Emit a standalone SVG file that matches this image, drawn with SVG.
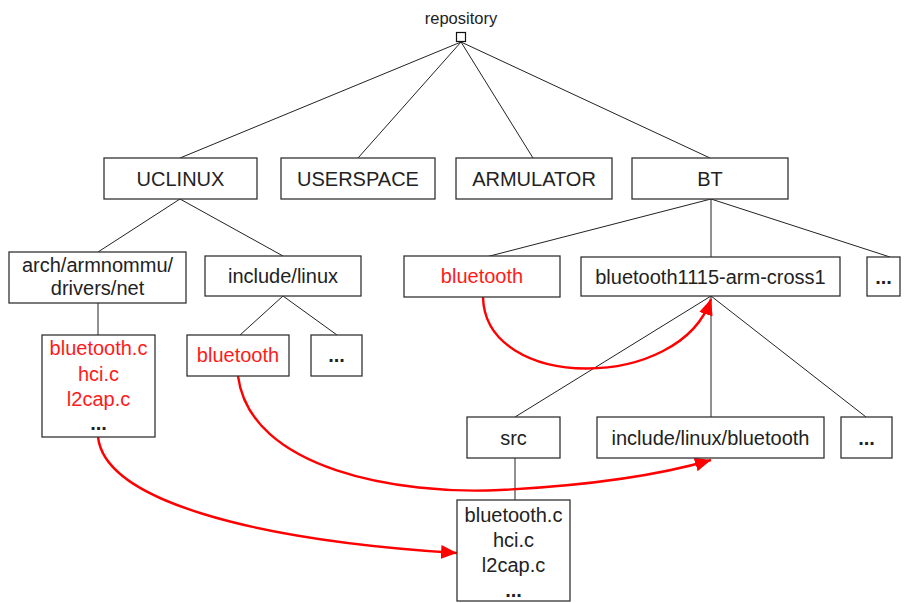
<svg xmlns="http://www.w3.org/2000/svg" width="907" height="603" viewBox="0 0 907 603">
<style>
  .box { fill: #fff; stroke: #333; stroke-width: 1.3; }
  .t { font-family: "Liberation Sans", Arial, sans-serif; font-size: 20px; fill: #222; text-anchor: middle; }
  .red { fill: #ff1a1a; }
  .dots { font-weight: bold; }
  .edge { stroke: #222; stroke-width: 1; fill: none; }
  .ref { stroke: #ff0000; stroke-width: 2.4; fill: none; }
</style>
<defs>
  <marker id="arr" markerUnits="userSpaceOnUse" markerWidth="18" markerHeight="14" refX="16" refY="7" orient="auto">
    <path d="M0,0 L16,7 L0,14 Z" fill="#ff0000"/>
  </marker>
</defs>
<rect width="907" height="603" fill="#fff"/>
<g id="connectors">
  <path class="edge" d="M461,42 L180,158 M461,42 L358,158 M461,42 L533,158 M461,42 L710,158"/>
  <path class="edge" d="M180,199 L98,252 M180,199 L283,256"/>
  <path class="edge" d="M98,303 L98,335"/>
  <path class="edge" d="M283,296 L240,335 M283,296 L337,335"/>
  <path class="edge" d="M711,199 L486,257 M711,199 L711,257 M711,199 L890,257"/>
  <path class="edge" d="M711,296 L515,417 M711,296 L711,417 M711,296 L866,417"/>
  <path class="edge" d="M515,458 L515,500"/>
  <path class="ref" d="M483,297 C485,392 680,392 711,299" marker-end="url(#arr)"/>
  <path class="ref" d="M238,376 C250,470 400,495 500,490 C600,485 670,472 711,460" marker-end="url(#arr)"/>
  <path class="ref" d="M98,437 C105,500 250,540 457,553" marker-end="url(#arr)"/>
</g>
<g id="repository">
  <text class="t" x="461" y="24" style="font-size:16.5px">repository</text>
  <rect x="456.5" y="32.5" width="9" height="9" fill="#fff" stroke="#111" stroke-width="1.2"/>
</g>
<g id="uclinux"><rect class="box" x="104" y="158" width="153" height="41"/><text class="t" x="180.5" y="186">UCLINUX</text></g>
<g id="userspace"><rect class="box" x="281" y="158" width="154" height="41"/><text class="t" x="358" y="186">USERSPACE</text></g>
<g id="armulator"><rect class="box" x="456" y="158" width="156" height="41"/><text class="t" x="534" y="186">ARMULATOR</text></g>
<g id="bt"><rect class="box" x="632" y="158" width="156" height="41"/><text class="t" x="710" y="186">BT</text></g>
<g id="arch"><rect class="box" x="9" y="252" width="177" height="51"/><text class="t" x="97.5" y="272">arch/armnommu/</text><text class="t" x="97.5" y="295">drivers/net</text></g>
<g id="include-linux"><rect class="box" x="205" y="256" width="156" height="40"/><text class="t" x="283" y="283">include/linux</text></g>
<g id="arch-files"><rect class="box" x="42" y="335" width="113" height="102"/>
  <text class="t red" x="98.5" y="355">bluetooth.c</text>
  <text class="t red" x="98.5" y="381">hci.c</text>
  <text class="t red" x="98.5" y="406">l2cap.c</text>
  <text class="t dots" x="98.5" y="430">...</text>
</g>
<g id="include-bluetooth"><rect class="box" x="187" y="335" width="102" height="41"/><text class="t red" x="238" y="362">bluetooth</text></g>
<g id="include-more"><rect class="box" x="311" y="335" width="51" height="41"/><text class="t dots" x="336.5" y="362">...</text></g>
<g id="bt-bluetooth"><rect class="box" x="404" y="256" width="156" height="41"/><text class="t red" x="482" y="283">bluetooth</text></g>
<g id="bt-cross"><rect class="box" x="581" y="257" width="259" height="39"/><text class="t" x="710.5" y="284">bluetooth1115-arm-cross1</text></g>
<g id="bt-more"><rect class="box" x="867" y="257" width="33" height="39"/><text class="t dots" x="883.5" y="284">...</text></g>
<g id="src"><rect class="box" x="467" y="417" width="93" height="41"/><text class="t" x="513.5" y="445">src</text></g>
<g id="inc-lin-bt"><rect class="box" x="597" y="417" width="227" height="41"/><text class="t" x="710.5" y="445">include/linux/bluetooth</text></g>
<g id="cross-more"><rect class="box" x="841" y="417" width="51" height="41"/><text class="t dots" x="866.5" y="445">...</text></g>
<g id="src-files"><rect class="box" x="457" y="500" width="113" height="101"/>
  <text class="t" x="513.5" y="522">bluetooth.c</text>
  <text class="t" x="513.5" y="547">hci.c</text>
  <text class="t" x="513.5" y="572">l2cap.c</text>
  <text class="t dots" x="513.5" y="597">...</text>
</g>
</svg>
